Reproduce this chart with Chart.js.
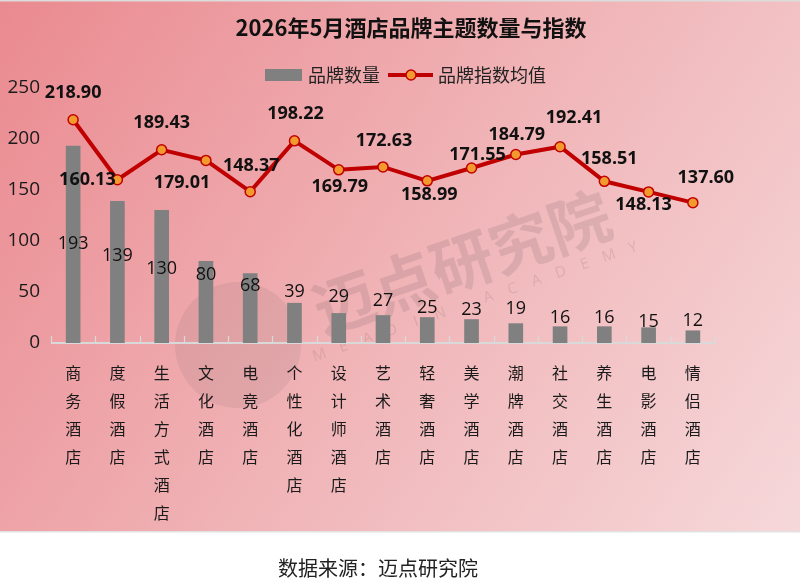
<!DOCTYPE html>
<html>
<head>
<meta charset="utf-8">
<script src="https://cdn.jsdelivr.net/npm/chart.js@4/dist/chart.umd.min.js"></script>
<style>
html,body{margin:0;padding:0;background:#fff;}
#wrap{width:800px;height:583px;}
</style>
</head>
<body>
<div id="wrap"><canvas id="c" width="800" height="583"></canvas></div>
<script>
const categories = ['商务酒店','度假酒店','生活方式酒店','文化酒店','电竞酒店','个性化酒店','设计师酒店','艺术酒店','轻奢酒店','美学酒店','潮牌酒店','社交酒店','养生酒店','电影酒店','情侣酒店'];
const brandCount = [193,139,130,80,68,39,29,27,25,23,19,16,16,15,12];
const brandIndex = [218.90,160.13,189.43,179.01,148.37,198.22,169.79,172.63,158.99,171.55,184.79,192.41,158.51,148.13,137.60];
const yTicks = [0,50,100,150,200,250];
const titleText = '2026年5月酒店品牌主题数量与指数';
const seriesNames = ['品牌数量','品牌指数均值'];
const sourceText = '数据来源：迈点研究院';

const FONT = '"Open Sans","Noto Sans CJK SC",sans-serif';
const CJK = '"Noto Sans CJK SC","Open Sans",sans-serif';

// label placement (pixel offsets relative to computed mark)
const barLabelDy = [98,55,58,13,12,-11,-17,-15,-10,-10,-15,-9,-9,-6,-10];
const lineLabelOff = [[0,-27],[-30,0],[0,-27],[-24,22],[1,-26],[1,-27],[1,17],[1,-26],[2,14],[6,-13],[1,-20],[14,-29],[5,-22],[-5,13],[13,-25]];

const decor = {
  id:'decor',
  beforeDraw(chart){
    const ctx = chart.ctx;
    ctx.save();
    ctx.fillStyle='#ffffff';
    ctx.fillRect(0,0,800,583);
    const g = ctx.createLinearGradient(0,0,800,531);
    g.addColorStop(0,'#ea8a90');
    g.addColorStop(0.5,'#f0b3b6');
    g.addColorStop(1,'#f6d8da');
    ctx.fillStyle=g;
    ctx.fillRect(0,0,800,531);
    ctx.fillStyle='#dcdcdc';
    ctx.fillRect(0,0,800,1.5);
    ctx.fillStyle='#e2e2e2';
    ctx.fillRect(0,531,800,1.5);
    // watermark
    ctx.fillStyle='rgba(110,90,95,0.11)';
    ctx.beginPath();
    ctx.arc(238,345,63,0,Math.PI*2);
    ctx.fill();
    ctx.translate(462,262);
    ctx.rotate(-0.33);
    ctx.font='bold 62px '+CJK;
    ctx.textAlign='center';
    ctx.textBaseline='middle';
    ctx.fillStyle='rgba(110,90,95,0.17)';
    ctx.fillText('迈点研究院',0,0);
    ctx.font='15px '+FONT;
    const letters='MEADIN ACADEMY'.split('');
    letters.forEach((ch,i)=>{ ctx.fillText(ch,-165+i*25.5,42); });
    ctx.restore();

    // title
    ctx.save();
    ctx.fillStyle='#111';
    ctx.font='bold 22px '+CJK;
    ctx.textAlign='center';
    ctx.textBaseline='middle';
    ctx.fillText(titleText,411,28);
    // legend
    ctx.fillStyle='#808080';
    ctx.fillRect(265,69,37,12);
    ctx.fillStyle='#222';
    ctx.font='18px '+CJK;
    ctx.textAlign='left';
    ctx.fillText(seriesNames[0],308,75);
    ctx.strokeStyle='#c00000';
    ctx.lineWidth=4;
    ctx.beginPath();ctx.moveTo(388,75);ctx.lineTo(433,75);ctx.stroke();
    ctx.fillStyle='#f39a2e';
    ctx.lineWidth=1.5;
    ctx.beginPath();ctx.arc(411,75,5,0,Math.PI*2);ctx.fill();ctx.stroke();
    ctx.fillStyle='#222';
    ctx.fillText(seriesNames[1],438,75);
    // source
    ctx.font='20px '+CJK;
    ctx.textAlign='center';
    ctx.fillText(sourceText,378,568);
    ctx.restore();
  },
  beforeDatasetsDraw(chart){
    const ctx=chart.ctx, a=chart.chartArea;
    ctx.save();
    ctx.strokeStyle='#d9d9d9';
    ctx.lineWidth=2;
    ctx.beginPath();ctx.moveTo(a.left,a.bottom);ctx.lineTo(a.right,a.bottom);ctx.stroke();
    ctx.lineWidth=1.2;
    const w=(a.right-a.left)/categories.length;
    for(let i=0;i<=categories.length;i++){
      const px=Math.round(a.left+i*w)+0.5;
      ctx.beginPath();ctx.moveTo(px,a.bottom);ctx.lineTo(px,a.bottom-7);ctx.stroke();
    }
    ctx.restore();
  },
  afterDatasetsDraw(chart){
    const ctx=chart.ctx;
    ctx.save();
    ctx.textAlign='center';
    ctx.textBaseline='middle';
    ctx.fillStyle='#111';
    const barMeta=chart.getDatasetMeta(1);
    ctx.font='18px '+FONT;
    barMeta.data.forEach((el,i)=>{
      ctx.fillText(String(brandCount[i]),el.x,el.y+barLabelDy[i]);
    });
    const lineMeta=chart.getDatasetMeta(0);
    ctx.font='bold 18px '+FONT;
    lineMeta.data.forEach((el,i)=>{
      ctx.fillText(brandIndex[i].toFixed(2),el.x+lineLabelOff[i][0],el.y+lineLabelOff[i][1]);
    });
    ctx.restore();
  }
};

new Chart(document.getElementById('c'),{
  type:'bar',
  data:{
    labels:categories.map(s=>s.split('')),
    datasets:[
      {type:'line',label:seriesNames[1],data:brandIndex,borderColor:'#c00000',borderWidth:4,
       pointBackgroundColor:'#f39a2e',pointBorderColor:'#c00000',pointBorderWidth:1.5,pointRadius:5,
       tension:0,order:0},
      {type:'bar',label:seriesNames[0],data:brandCount,backgroundColor:'#808080',barThickness:14,order:1}
    ]
  },
  options:{
    responsive:false,
    animation:false,
    devicePixelRatio:1,
    layout:{padding:{top:88,right:85,left:0,bottom:0}},
    plugins:{legend:{display:false},title:{display:false},tooltip:{enabled:false}},
    scales:{
      x:{
        grid:{display:false,drawTicks:false},
        border:{display:false},
        ticks:{color:'#1a1a1a',font:{family:CJK,size:16,lineHeight:1.75},maxRotation:0,autoSkip:false,padding:16},
        afterFit(s){s.height=240;}
      },
      y:{
        min:0,max:250,
        grid:{display:false,drawTicks:false},
        border:{display:false},
        afterBuildTicks(s){s.ticks=yTicks.map(v=>({value:v}));},
        ticks:{color:'#1a1a1a',font:{family:FONT,size:19},padding:11},
        afterFit(s){s.width=51;}
      }
    }
  },
  plugins:[decor]
});
</script>
</body>
</html>
